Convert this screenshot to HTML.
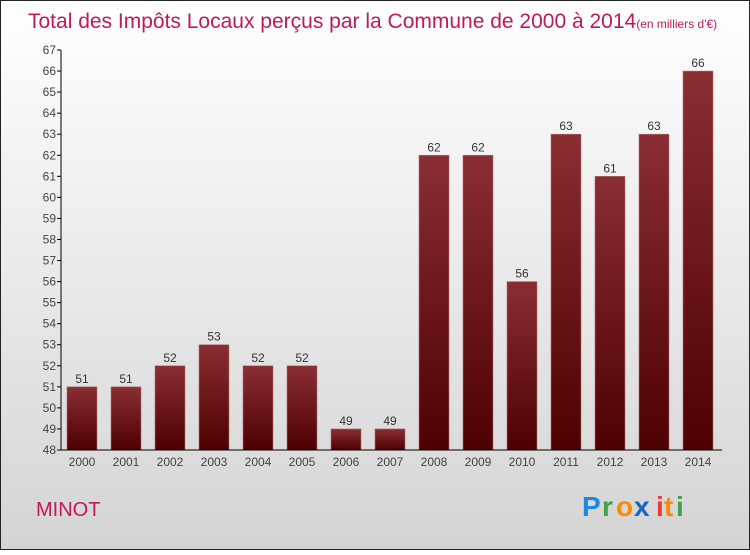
<!DOCTYPE html>
<html><head><meta charset="utf-8"><style>
body{margin:0;width:750px;height:550px;overflow:hidden;font-family:"Liberation Sans",sans-serif}
</style></head><body>
<svg width="750" height="550" xmlns="http://www.w3.org/2000/svg">
<defs>
<linearGradient id="bg" x1="0" y1="0" x2="0" y2="1"><stop offset="0" stop-color="#ffffff"/><stop offset="1" stop-color="#d4d4d4"/></linearGradient>
<linearGradient id="bar" x1="0" y1="0" x2="0" y2="1"><stop offset="0" stop-color="#8a2e33"/><stop offset="1" stop-color="#4e0000"/></linearGradient>
</defs>
<rect x="0.5" y="0.5" width="749" height="549" fill="url(#bg)" stroke="#222"/>
<text x="28" y="28" font-size="21" fill="#c2185b">Total des Impôts Locaux perçus par la Commune de 2000 à 2014<tspan font-size="12">(en milliers d'€)</tspan></text>
<g id="plot"></g>
<text x="36" y="516" font-size="20" fill="#c2185b">MINOT</text>
<g font-size="28" font-weight="bold">
<text x="582" y="516" fill="#1e88e5">P</text><text x="602" y="516" fill="#43a047">r</text><text x="616" y="516" fill="#fb8c00">o</text><text x="634" y="516" fill="#1565c0">x</text><text x="656" y="516" fill="#e53935">i</text><text x="664" y="516" fill="#fb8c00">t</text><text x="676" y="516" fill="#43a047">i</text>
</g>
</svg>
<script>
const years=["2000","2001","2002","2003","2004","2005","2006","2007","2008","2009","2010","2011","2012","2013","2014"];
const values=[51,51,52,53,52,52,49,49,62,62,56,63,61,63,66];
const yTicks=[48,49,50,51,52,53,54,55,56,57,58,59,60,61,62,63,64,65,66,67];
const NS="http://www.w3.org/2000/svg";
const g=document.getElementById('plot');
const yMin=48,yMax=67,y0=450,y1=50;
const y=v=>y0-(v-yMin)/(yMax-yMin)*(y0-y1);
const xc=i=>82+i*44;
function el(t,a,txt){const e=document.createElementNS(NS,t);for(const k in a)e.setAttribute(k,a[k]);if(txt!==undefined)e.textContent=txt;g.appendChild(e);return e;}
values.forEach((v,i)=>{
 const r=el('rect',{x:xc(i)-15,y:y(v),width:30,height:y0-y(v),fill:'url(#bar)',stroke:'#b07070','stroke-width':0.6});
 
 
 const t=el('text',{x:xc(i),y:y(v)-4,'text-anchor':'middle','font-size':12,fill:'#333'},v);
 
 
 const xl=el('text',{x:xc(i),y:466,'text-anchor':'middle','font-size':12,fill:'#444'},years[i]);
 
 
});
const ya=el('line',{x1:61,y1:y1,x2:61,y2:y0,stroke:'#000'});


const xa=el('line',{x1:61,y1:y0,x2:722,y2:y0,stroke:'#000'});


yTicks.forEach(v=>{
 el('line',{x1:57,y1:y(v),x2:61,y2:y(v),stroke:'#000'});
 const t=el('text',{x:56,y:y(v)+4,'text-anchor':'end','font-size':12,fill:'#444'},v);
 
 
});
</script>
</body></html>
